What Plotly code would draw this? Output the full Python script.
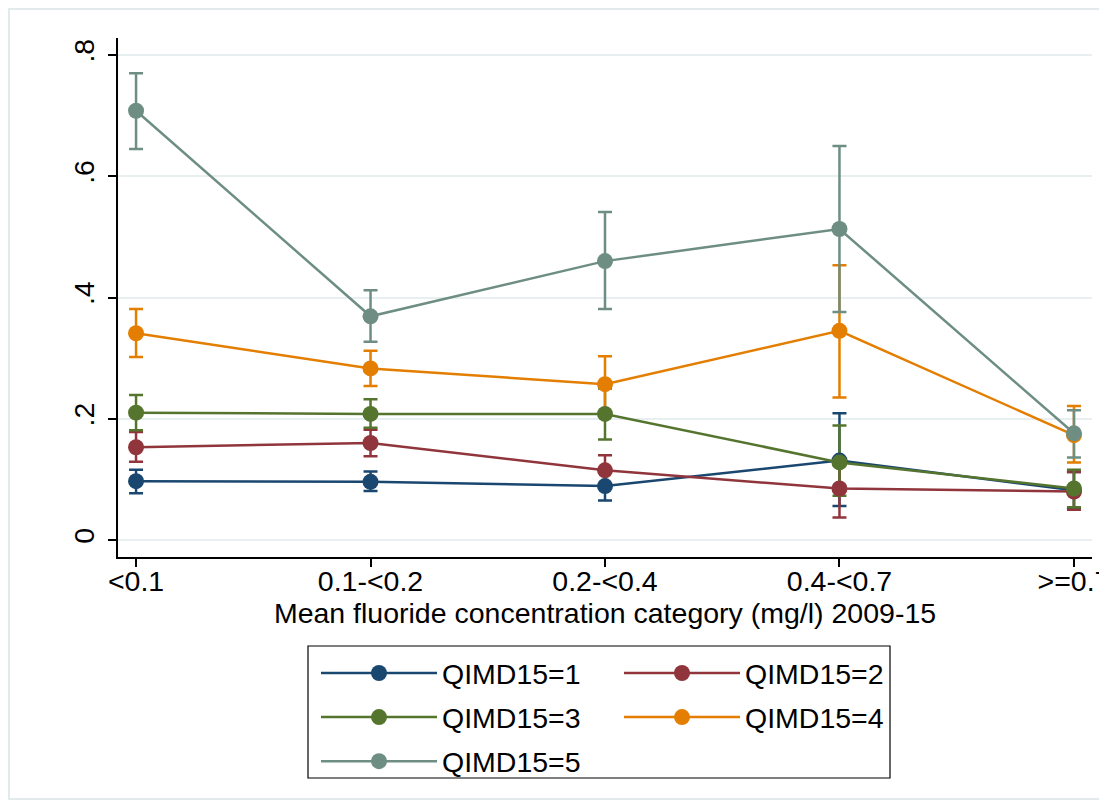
import plotly.graph_objects as go

categories = ["<0.1", "0.1-<0.2", "0.2-<0.4", "0.4-<0.7", ">=0.7"]
series_names = ["QIMD15=1", "QIMD15=2", "QIMD15=3", "QIMD15=4", "QIMD15=5"]

q1_est = [0.097, 0.096, 0.089, 0.131, 0.082]
q1_lo = [0.077, 0.081, 0.065, 0.056, 0.052]
q1_hi = [0.116, 0.113, 0.113, 0.209, 0.112]

q2_est = [0.153, 0.160, 0.115, 0.085, 0.080]
q2_lo = [0.129, 0.138, 0.090, 0.037, 0.050]
q2_hi = [0.178, 0.182, 0.140, 0.133, 0.112]

q3_est = [0.210, 0.208, 0.208, 0.128, 0.085]
q3_lo = [0.181, 0.185, 0.166, 0.073, 0.054]
q3_hi = [0.239, 0.232, 0.250, 0.189, 0.116]

q4_est = [0.341, 0.283, 0.257, 0.345, 0.173]
q4_lo = [0.302, 0.254, 0.212, 0.235, 0.128]
q4_hi = [0.381, 0.312, 0.303, 0.453, 0.221]

q5_est = [0.708, 0.369, 0.460, 0.513, 0.176]
q5_lo = [0.645, 0.327, 0.381, 0.376, 0.136]
q5_hi = [0.770, 0.412, 0.541, 0.650, 0.214]

y_tickvals = [0, 0.2, 0.4, 0.6, 0.8]
y_ticktext = ["0", ".2", ".4", ".6", ".8"]

colors = ["#1a476f", "#90353b", "#55752f", "#e37e00", "#6e8e84"]
legend_ids = ["legend", "legend2", "legend", "legend2", "legend"]

ests = [q1_est, q2_est, q3_est, q4_est, q5_est]
los = [q1_lo, q2_lo, q3_lo, q4_lo, q5_lo]
his = [q1_hi, q2_hi, q3_hi, q4_hi, q5_hi]

FONT = "Liberation Sans, Arial, Helvetica, sans-serif"
FS = 28.5
OFF = 8  # page body margin
W, H = 1107 - OFF, 807 - OFF
L, R, T, B = 110, 15, 30, 250
PW, PH = W - L - R, H - T - B


def px_x(p):  # screen pixel -> paper
    return (p - OFF - L) / PW


def px_y(p):
    return (H - B - (p - OFF)) / PH


fig = go.Figure()

# capped ranges drawn first
for est, lo, hi, c in zip(ests, los, his, colors):
    fig.add_trace(go.Scatter(
        x=categories, y=est, mode="markers",
        marker=dict(size=1, opacity=0),
        error_y=dict(type="data", symmetric=False,
                     array=[h - e for h, e in zip(hi, est)],
                     arrayminus=[e - l for e, l in zip(est, lo)],
                     color=c, thickness=2.5, width=7),
        showlegend=False, hoverinfo="skip"))

# connected lines with markers
for est, name, c, lg in zip(ests, series_names, colors, legend_ids):
    fig.add_trace(go.Scatter(
        x=categories, y=est, mode="lines+markers", name=name,
        line=dict(color=c, width=2.5),
        marker=dict(color=c, size=16),
        legend=lg, legendgroup=name))

legend_common = dict(xanchor="left", yanchor="top", bgcolor="rgba(0,0,0,0)",
                     borderwidth=0, itemwidth=116, tracegroupgap=4,
                     font=dict(size=FS))

fig.update_layout(
    width=W, height=H,
    margin=dict(l=L, r=R, t=T, b=B),
    paper_bgcolor="white", plot_bgcolor="white",
    font=dict(family=FONT, size=FS, color="black"),
    xaxis=dict(
        type="category", range=[-0.077, 4.077],
        showline=True, linecolor="black", linewidth=1.5,
        ticks="outside", ticklen=8, tickwidth=1.5, tickcolor="black",
        showgrid=False, zeroline=False, automargin=False,
        tickfont=dict(size=FS), ticklabelstandoff=-10,
        title=dict(text="Mean fluoride concentration category (mg/l) 2009-15",
                   font=dict(size=FS), standoff=4)),
    yaxis=dict(
        range=[-0.028, 0.828],
        tickvals=y_tickvals, ticktext=y_ticktext, tickangle=-90,
        showline=True, linecolor="black", linewidth=1.5,
        ticks="outside", ticklen=8, tickwidth=1.5, tickcolor="black",
        showgrid=True, gridcolor="#e8eff0", gridwidth=1.5,
        zeroline=False, automargin=False, ticklabelstandoff=3,
        tickfont=dict(size=FS)),
    legend=dict(x=px_x(316), y=px_y(648), **legend_common),
    legend2=dict(x=px_x(619), y=px_y(648), **legend_common),
    shapes=[
        dict(type="rect", xref="paper", yref="paper",
             x0=px_x(308), x1=px_x(890), y0=px_y(778), y1=px_y(646),
             line=dict(color="black", width=1.2), layer="above"),
        dict(type="rect", xref="paper", yref="paper",
             x0=px_x(9), x1=px_x(1130), y0=px_y(799), y1=px_y(9),
             line=dict(color="#e3eaec", width=2), layer="below"),
    ],
)

fig.write_html("out.html")
